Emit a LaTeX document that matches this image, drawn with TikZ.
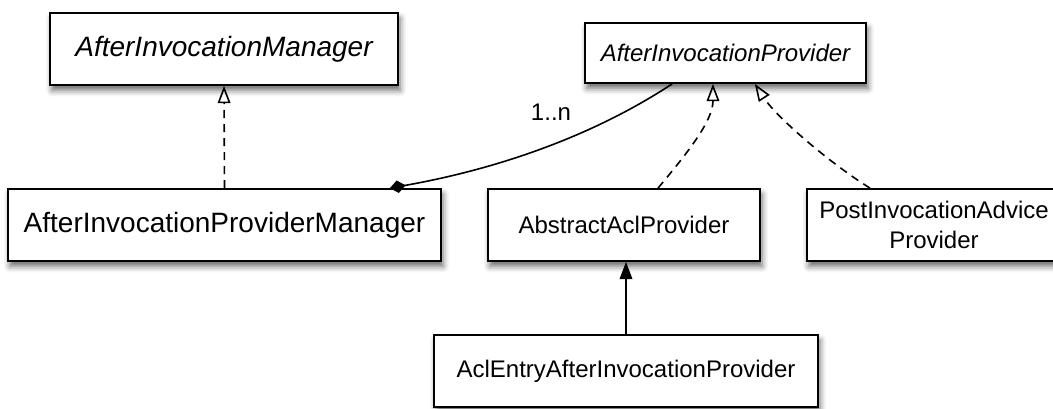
\documentclass[tikz,border=0pt]{standalone}
\usepackage{fontspec}
\setmainfont{Liberation Sans}
\usetikzlibrary{arrows.meta,shadows.blur}
\begin{document}
\begin{tikzpicture}[x=0.75pt,y=-0.75pt,
  box/.style={draw=black, fill=white, line width=1.3pt, inner sep=0pt, align=center,
    blur shadow={shadow xshift=1.5pt, shadow yshift=-4pt, shadow blur radius=4.5pt, shadow opacity=60}},
  bigtxt/.style={font=\fontsize{21pt}{25pt}\selectfont},
  smalltxt/.style={font=\fontsize{18pt}{23pt}\selectfont},
  conn/.style={line width=1.2pt, draw=black},
  realize/.style={conn, dash pattern=on 6pt off 4.5pt, -{Triangle[open, length=13pt, width=9.5pt, line width=1.2pt]}},
  inherit/.style={conn, -{Triangle[length=13pt, width=9.5pt]}},
  aggr/.style={conn, {Diamond[length=12pt, width=9.5pt]}-}
]
\useasboundingbox (0,0) rectangle (1053,409);
\node[box, bigtxt, minimum width=261pt, minimum height=54pt] (aim) at (224,49) {\itshape AfterInvocationManager};
\node[box, smalltxt, minimum width=210.75pt, minimum height=45pt] (aip) at (725.5,53) {\itshape AfterInvocationProvider};
\node[box, bigtxt, minimum width=324.75pt, minimum height=54pt] (apm) at (224.5,225) {AfterInvocationProviderManager};
\node[box, smalltxt, minimum width=204pt, minimum height=54pt] (aap) at (624,225) {AbstractAclProvider};
\node[box, smalltxt, minimum width=190.5pt, minimum height=54pt] (pia) at (934,225) {PostInvocationAdvice\\Provider};
\node[box, smalltxt, minimum width=288pt, minimum height=54pt] (aea) at (626,371) {AclEntryAfterInvocationProvider};
\node[smalltxt, inner sep=0pt] (mult) at (551,112) {1..n};
\draw[realize] (apm.north) -- (aim.south);
\draw[aggr] ([xshift=-39pt]apm.north east) .. controls (520,165) and (610,125) .. ([xshift=-40pt]aip.south);
\draw[realize] ([xshift=25.5pt]aap.north) .. controls (690,150) and (713,120) .. ([xshift=-9.4pt]aip.south);
\draw[realize] ([xshift=-48pt]pia.north) .. controls (825,160) and (775,115) .. ([xshift=22pt]aip.south);
\draw[inherit] (aea.north) -- (aea.north |- aap.south);
\end{tikzpicture}
\end{document}
